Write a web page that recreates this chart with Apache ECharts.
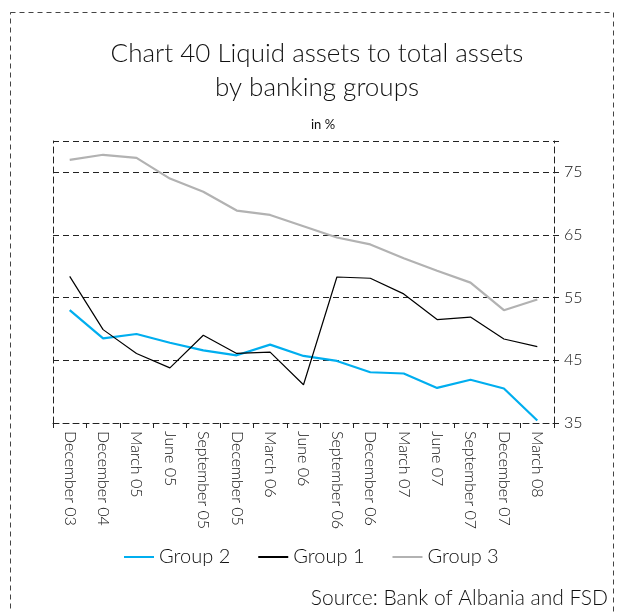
<!DOCTYPE html>
<html>
<head>
<meta charset="utf-8">
<script src="https://cdn.jsdelivr.net/npm/echarts@6/dist/echarts.min.js"></script>
<style>
html,body{margin:0;padding:0;background:#fff;}
#c{width:618px;height:612px;}
</style>
</head>
<body>
<div id="c"></div>
<script>
const categories = ["December 03","December 04","March 05","June 05","September 05","December 05","March 06","June 06","September 06","December 06","March 07","June 07","September 07","December 07","March 08"];
const group2 = [53.0,48.5,49.2,47.8,46.6,45.8,47.5,45.7,44.9,43.1,42.9,40.6,41.9,40.5,35.4];
const group1 = [58.4,49.9,46.1,43.8,49.0,46.1,46.3,41.1,58.3,58.1,55.6,51.5,51.9,48.4,47.2];
const group3 = [77.0,77.8,77.3,74.0,71.9,68.9,68.2,66.4,64.6,63.5,61.3,59.3,57.4,53.0,54.7];
const yTickLabels = [35,45,55,65,75];

const FONT = 'Lato';
const chart = echarts.init(document.getElementById('c'), null, {renderer:'canvas'});
const dashed = {type:[6,4], color:'#222', width:1};
chart.setOption({
  animation:false,
  backgroundColor:'#fff',
  title:[
    {text:'Chart 40 Liquid assets to total assets\nby banking groups', left:312, textAlign:'center', top:32,
     textStyle:{fontFamily:FONT, fontWeight:300, fontSize:26, color:'#111', lineHeight:34}},
    {text:'in %', left:318, top:113, textAlign:'center',
     textStyle:{fontFamily:FONT, fontWeight:400, fontSize:13, color:'#111'}}
  ],
  graphic:[
    {type:'rect', shape:{x:10.5,y:12.5,width:603,height:640}, style:{fill:'none', stroke:'#444', lineDash:[5,4], lineWidth:1}, silent:true},
    {type:'text', right:10, top:588, style:{text:'Source: Bank of Albania and FSD', font:'300 21px Lato', fill:'#111'}}
  ],
  legend:{
    data:['Group 2','Group 1','Group 3'],
    left:119, top:542, itemWidth:30, itemHeight:2, itemGap:28, icon:'rect',
    textStyle:{fontFamily:FONT, fontWeight:300, fontSize:20, color:'#111'}
  },
  grid:{left:53, right:64, top:141, bottom:189, containLabel:false},
  xAxis:{
    type:'category', data:categories, boundaryGap:true,
    axisLine:{show:true, lineStyle:dashed},
    axisTick:{show:true, length:5, inside:false, lineStyle:{color:'#222'}},
    axisLabel:{rotate:-90, interval:0, margin:8, fontFamily:FONT, fontWeight:300, fontSize:16, color:'#111'},
    splitLine:{show:false}
  },
  yAxis:[
    {type:'value', position:'right', min:35, max:80, interval:10,
     axisLine:{show:true, lineStyle:dashed},
     axisTick:{show:true, length:5, lineStyle:{color:'#222'}},
     axisLabel:{fontFamily:FONT, fontWeight:300, fontSize:16, color:'#111', margin:10,
       formatter:function(v){return yTickLabels.indexOf(v)>=0 ? String(v) : '';}},
     splitLine:{show:true, lineStyle:dashed}
    },
    {type:'value', position:'left', min:35, max:80, interval:10,
     axisLine:{show:true, lineStyle:dashed}, axisTick:{show:false}, axisLabel:{show:false}, splitLine:{show:false}}
  ],
  series:[
    {name:'Group 2', type:'line', data:group2, showSymbol:false, symbol:'none', itemStyle:{color:'#00AEEF'}, lineStyle:{color:'#00AEEF', width:2.2}, z:3},
    {name:'Group 1', type:'line', data:group1, showSymbol:false, symbol:'none', itemStyle:{color:'#000'}, lineStyle:{color:'#000', width:1.2}, z:4},
    {name:'Group 3', type:'line', data:group3, showSymbol:false, symbol:'none', itemStyle:{color:'#B2B2B2'}, lineStyle:{color:'#B2B2B2', width:2.2}, z:2}
  ]
});
</script>
</body>
</html>
